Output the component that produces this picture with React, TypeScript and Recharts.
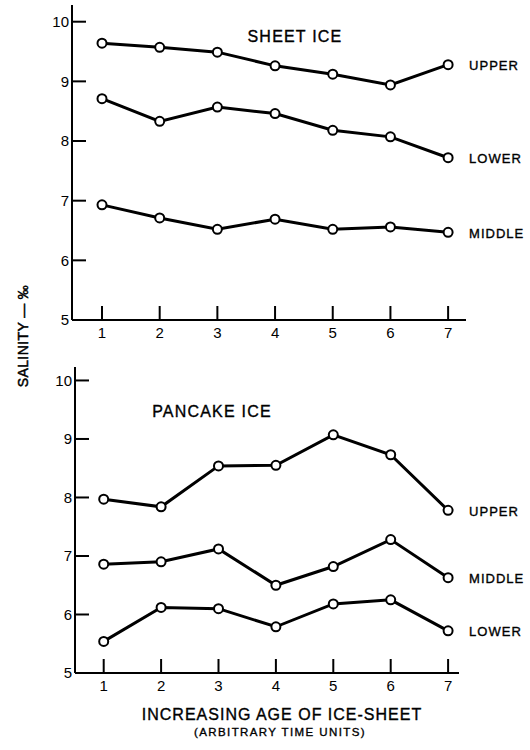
import { LineChart, Line, XAxis, YAxis, LabelList } from "recharts";

const ages = [1, 2, 3, 4, 5, 6, 7];
const yTicks = [5, 6, 7, 8, 9, 10];

const sheetUpper = [9.64, 9.57, 9.49, 9.26, 9.12, 8.94, 9.28];
const sheetLower = [8.71, 8.33, 8.57, 8.46, 8.18, 8.07, 7.72];
const sheetMiddle = [6.93, 6.71, 6.52, 6.69, 6.52, 6.56, 6.47];

const pancakeUpper = [7.97, 7.84, 8.54, 8.55, 9.07, 8.73, 7.78];
const pancakeMiddle = [6.86, 6.9, 7.12, 6.5, 6.82, 7.28, 6.63];
const pancakeLower = [5.54, 6.12, 6.1, 5.79, 6.18, 6.25, 5.72];

const sheetData = ages.map((age, i) => ({
  age,
  upper: sheetUpper[i],
  lower: sheetLower[i],
  middle: sheetMiddle[i],
}));

const pancakeData = ages.map((age, i) => ({
  age,
  upper: pancakeUpper[i],
  middle: pancakeMiddle[i],
  lower: pancakeLower[i],
}));

const font = "'Liberation Sans', Arial, sans-serif";
const tickText = { fill: "#000", fontSize: 15, fontFamily: font };
const axisStroke = { stroke: "#000", strokeWidth: 2 };
const dot = { r: 4.5, fill: "#fff", stroke: "#000", strokeWidth: 2 };

const endLabel = (name: string) => (props: any) => {
  const { x, y, index } = props;
  if (index !== ages.length - 1) return null;
  return (
    <text
      x={x + 21}
      y={y + 1}
      dominantBaseline="central"
      fontSize={13}
      letterSpacing={1}
      fontFamily={font}
      fill="#000"
      stroke="#000"
      strokeWidth={0.35}
    >
      {name}
    </text>
  );
};

const caption = (left: number, top: number, width: number, size: number, spacing: number) => ({
  position: "absolute" as const,
  left,
  top,
  width,
  textAlign: "center" as const,
  fontSize: size,
  lineHeight: `${size}px`,
  letterSpacing: spacing,
  color: "#000",
  WebkitTextStroke: "0.35px #000",
  whiteSpace: "nowrap" as const,
});

export default function App() {
  return (
    <div
      style={{
        position: "absolute",
        left: 0,
        top: 0,
        width: 530,
        height: 750,
        background: "#fff",
        fontFamily: font,
      }}
    >
      <div style={caption(195, 28.5, 200, 16, 1.2)}>SHEET ICE</div>
      <div style={caption(112, 403.5, 200, 16, 1.2)}>PANCAKE ICE</div>
      <div style={caption(132, 706.5, 300, 16, 1)}>INCREASING AGE OF ICE-SHEET</div>
      <div style={caption(130, 727.3, 300, 11.5, 1.4)}>(ARBITRARY TIME UNITS)</div>
      <div
        style={{
          ...caption(-47, 329, 140, 14, 0.4),
          transform: "rotate(-90deg)",
          WebkitTextStroke: "0.5px #000",
        }}
      >
        SALINITY — ‰
      </div>

      <LineChart width={530} height={345} data={sheetData} margin={{ top: 5, right: 64, bottom: 0, left: 32 }}>
        <XAxis
          dataKey="age"
          type="number"
          domain={[0.48, 7.31]}
          ticks={ages}
          height={25}
          tickSize={-14}
          tickMargin={21}
          tickLine={axisStroke}
          tick={tickText}
          axisLine={axisStroke}
          interval={0}
        />
        <YAxis
          type="number"
          domain={[5, 10.28]}
          ticks={yTicks}
          width={40}
          tickSize={-14}
          tickMargin={17}
          tickLine={axisStroke}
          tick={tickText}
          axisLine={axisStroke}
          interval={0}
        />
        <Line dataKey="upper" type="linear" stroke="#000" strokeWidth={3} dot={dot} isAnimationActive={false}>
          <LabelList dataKey="upper" content={endLabel("UPPER")} />
        </Line>
        <Line dataKey="lower" type="linear" stroke="#000" strokeWidth={3} dot={dot} isAnimationActive={false}>
          <LabelList dataKey="lower" content={endLabel("LOWER")} />
        </Line>
        <Line dataKey="middle" type="linear" stroke="#000" strokeWidth={3} dot={dot} isAnimationActive={false}>
          <LabelList dataKey="middle" content={endLabel("MIDDLE")} />
        </Line>
      </LineChart>

      <LineChart width={530} height={405} data={pancakeData} margin={{ top: 22, right: 71, bottom: 52, left: 35 }}>
        <XAxis
          dataKey="age"
          type="number"
          domain={[0.5, 7.19]}
          ticks={ages}
          height={25}
          tickSize={-14}
          tickMargin={21}
          tickLine={axisStroke}
          tick={tickText}
          axisLine={axisStroke}
          interval={0}
        />
        <YAxis
          type="number"
          domain={[5, 10.23]}
          ticks={yTicks}
          width={40}
          tickSize={-14}
          tickMargin={17}
          tickLine={axisStroke}
          tick={tickText}
          axisLine={axisStroke}
          interval={0}
        />
        <Line dataKey="upper" type="linear" stroke="#000" strokeWidth={3} dot={dot} isAnimationActive={false}>
          <LabelList dataKey="upper" content={endLabel("UPPER")} />
        </Line>
        <Line dataKey="middle" type="linear" stroke="#000" strokeWidth={3} dot={dot} isAnimationActive={false}>
          <LabelList dataKey="middle" content={endLabel("MIDDLE")} />
        </Line>
        <Line dataKey="lower" type="linear" stroke="#000" strokeWidth={3} dot={dot} isAnimationActive={false}>
          <LabelList dataKey="lower" content={endLabel("LOWER")} />
        </Line>
      </LineChart>
    </div>
  );
}
